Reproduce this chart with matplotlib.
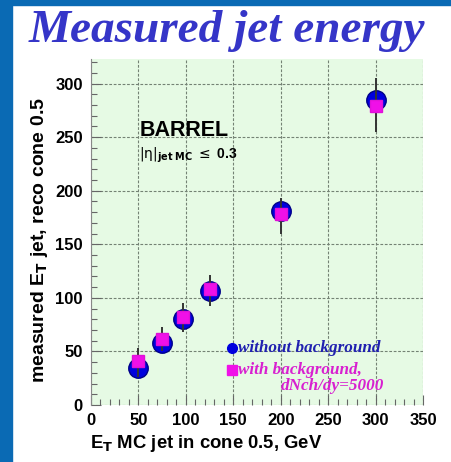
import numpy as np
import matplotlib.pyplot as plt
from matplotlib.ticker import MultipleLocator

# generated jet E_T (GeV) and reconstructed E_T
et_mc = [50, 75, 97, 125, 200, 300]
et_nobg = [35, 58, 80, 106, 181, 285]
et_bg = [41, 62, 82, 108, 178, 279]
err_lo = [15, 12, 14, 16, 18, 24]
err_hi = [12, 11, 13, 13, 15, 26]

fig = plt.figure(figsize=(4.52, 4.62), dpi=100)
fig.patch.set_facecolor('white')

# blue frame along left and top edge
fig.patches.append(plt.Rectangle((0, 0), 12/452, 1, transform=fig.transFigure,
                                 color='#0a6ab4', zorder=0))
fig.patches.append(plt.Rectangle((0, 1-5/462), 1, 5/462, transform=fig.transFigure,
                                 color='#0a6ab4', zorder=0))

fig.text(227/452, 1-31/462, 'Measured jet energy', ha='center', va='center',
         family='Liberation Serif', weight='bold', style='italic',
         size=34, color='#3535c8')

ax = fig.add_axes([91/452, 1-405/462, 332/452, 346/462])
ax.set_facecolor('#e6fae4')
ax.set_xlim(0, 350)
ax.set_ylim(0, 323)

ax.xaxis.set_major_locator(MultipleLocator(50))
ax.yaxis.set_major_locator(MultipleLocator(50))
ax.xaxis.set_minor_locator(MultipleLocator(10))
ax.yaxis.set_minor_locator(MultipleLocator(10))
ax.grid(True, which='major', ls=(0, (2.5, 1.5)), color='#748274', lw=0.8)
ax.tick_params(which='both', direction='in', color='#666666', width=0.8)
ax.tick_params(which='major', length=7, pad=6, labelsize=12)
ax.tick_params(which='minor', length=4)
for lab in ax.get_xticklabels() + ax.get_yticklabels():
    lab.set_family('Liberation Sans')
    lab.set_weight('bold')
for s in ['top', 'right', 'bottom']:
    ax.spines[s].set_visible(False)
ax.spines['left'].set_color('#888888')

ax.plot(et_mc, et_nobg, 'o', ms=14, mfc='#0000dd', mec='#000088', mew=1, zorder=3)
ax.errorbar(et_mc, et_bg, yerr=[err_lo, err_hi], fmt='none', ecolor='#333333',
            elinewidth=1.4, zorder=4)
ax.plot(et_mc, et_bg, 's', ms=9, mfc='#f010e8', mec='#e010d8', zorder=5)

ax.text(51, 256, 'BARREL', family='Liberation Sans', weight='bold', size=15.5, va='center')
ax.text(51, 233, r'$|\mathrm{\eta}|_{\mathbf{jet\ MC}}$ $\leq$ 0.3', family='Liberation Sans',
        weight='bold', size=10, va='center')

# legend
ax.plot([149], [53], 'o', ms=7, mfc='#0000dd', mec='#0000dd', clip_on=False)
ax.text(155, 53, 'without background', va='center', family='Liberation Serif',
        weight='bold', style='italic', size=12.3, color='#2020b0')
ax.plot([149], [33], 's', ms=7, mfc='#f010e8', mec='#f010e8', clip_on=False)
ax.text(155, 33, 'with background,', va='center', family='Liberation Serif',
        weight='bold', style='italic', size=12.3, color='#d820d0')
ax.text(200, 18, 'dNch/dy=5000', va='center', family='Liberation Serif',
        weight='bold', style='italic', size=12.3, color='#d820d0')

fig.text(206/452, 1-443/462, r'E$_\mathbf{T}$ MC jet in cone 0.5, GeV', ha='center',
         va='center', family='Liberation Sans', weight='bold', size=13.3)
fig.text(40/452, 1-240/462, r'measured E$_\mathbf{T}$ jet, reco cone 0.5', ha='center',
         va='center', rotation=90, family='Liberation Sans', weight='bold', size=14)

fig.savefig('out.png', dpi=100)
